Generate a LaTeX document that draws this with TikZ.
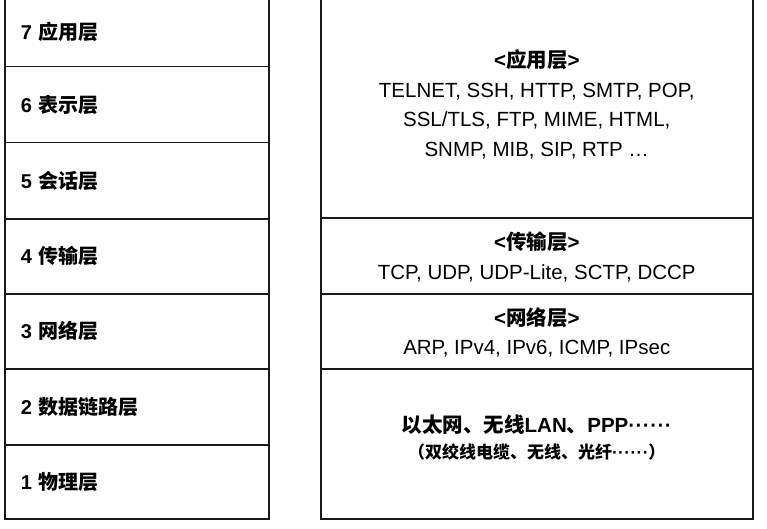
\documentclass[tikz,border=0pt]{standalone}
\usepackage{fontspec}
\setmainfont{Liberation Sans}
\newfontfamily\cjk{Noto Sans CJK SC}
\newcommand\zh[1]{{\cjk #1}}
\newcommand\dotsix{\textperiodcentered\kern0.5pt\textperiodcentered\kern0.5pt\textperiodcentered\kern0.5pt\textperiodcentered\kern0.5pt\textperiodcentered\kern0.5pt\textperiodcentered}
\begin{document}
\begin{tikzpicture}[x=1pt,y=-1pt,
  layerbox/.style={draw=black!90, line width=1.5pt, rectangle, anchor=north west, inner sep=0pt},
  osi/.style={layerbox, minimum width=264pt, text width=232pt, inner xsep=16pt, align=left,
    font=\fontsize{20}{29}\selectfont\bfseries},
  tcpip/.style={layerbox, minimum width=432pt},
  proto/.style={align=center, inner sep=0pt, font=\fontsize{20.5}{29.5}\selectfont}]
\useasboundingbox (0,0) rectangle (767,529);
% OSI reference model (left)
\node[osi, minimum height=70pt] (l7) at (4,-4) {7 \zh{应用层}};
\node[osi, minimum height=76pt] (l6) at (4,66) {6 \zh{表示层}};
\node[osi, minimum height=76pt] (l5) at (4,142) {5 \zh{会话层}};
\node[osi, minimum height=75pt] (l4) at (4,218) {4 \zh{传输层}};
\node[osi, minimum height=75pt] (l3) at (4,293) {3 \zh{网络层}};
\node[osi, minimum height=76pt] (l2) at (4,368) {2 \zh{数据链路层}};
\node[osi, minimum height=74pt] (l1) at (4,444) {1 \zh{物理层}};
% TCP/IP (right)
\node[tcpip, minimum height=221pt] (app) at (320,-4) {};
\node[tcpip, minimum height=76pt] (tra) at (320,217) {};
\node[tcpip, minimum height=75pt] (net) at (320,293) {};
\node[tcpip, minimum height=150pt] (lnk) at (320,368) {};
\node[proto] (apptxt) at ([yshift=3pt]app.center)
  {\textbf{<\zh{应用层}>}\\TELNET, SSH, HTTP, SMTP, POP,\\SSL/TLS, FTP, MIME, HTML,\\SNMP, MIB, SIP, RTP \ldots};
\node[proto] (tratxt) at ([yshift=-1pt]tra.center)
  {\textbf{<\zh{传输层}>}\\TCP, UDP, UDP-Lite, SCTP, DCCP};
\node[proto] (nettxt) at ([yshift=-1pt]net.center)
  {\textbf{<\zh{网络层}>}\\ARP, IPv4, IPv6, ICMP, IPsec};
\node[proto, font=\fontsize{20.5}{29.5}\selectfont\bfseries] (lnktxt) at ([yshift=6pt]lnk.center)
  {\zh{以太网、无线}LAN\zh{、}PPP\dotsix\\[-4pt]
   {\fontsize{17}{20}\selectfont\zh{（双绞线电缆、无线、光纤}\dotsix\zh{）}}};
\end{tikzpicture}
\end{document}
